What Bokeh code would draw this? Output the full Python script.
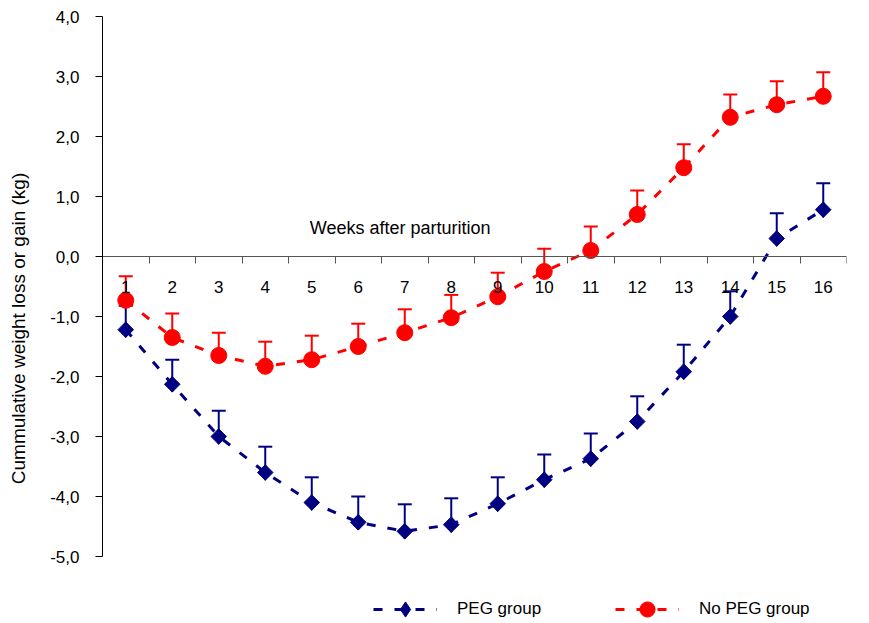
import numpy as np
from bokeh.plotting import figure
from bokeh.models import Range1d, FixedTicker, Legend, LegendItem, Label
from bokeh.embed import file_html
from bokeh.resources import INLINE

# ---- data ----
weeks = list(range(1, 17))
week_labels = [str(w) for w in weeks]

peg = [-1.22, -2.13, -3.00, -3.60, -4.10, -4.43, -4.58, -4.47,
       -4.12, -3.72, -3.37, -2.75, -1.92, -1.00, 0.30, 0.78]
peg_se = [0.40, 0.41, 0.43, 0.43, 0.42, 0.43, 0.45, 0.44,
          0.44, 0.42, 0.42, 0.42, 0.45, 0.42, 0.42, 0.44]

nopeg = [-0.73, -1.35, -1.65, -1.83, -1.72, -1.50, -1.27, -1.02,
         -0.67, -0.25, 0.10, 0.70, 1.48, 2.32, 2.53, 2.67]
nopeg_se = [0.40, 0.40, 0.38, 0.41, 0.40, 0.38, 0.39, 0.38,
            0.40, 0.38, 0.40, 0.40, 0.39, 0.38, 0.39, 0.40]

y_ticks = [-5, -4, -3, -2, -1, 0, 1, 2, 3, 4]
y_tick_labels = ["-5,0", "-4,0", "-3,0", "-2,0", "-1,0", "0,0", "1,0", "2,0", "3,0", "4,0"]

series_names = ["PEG group", "No PEG group"]
x_title = "Weeks after parturition"
y_title = "Cummulative weight loss or gain (kg)"

FONT = "Liberation Sans"
BLUE = "#000080"
RED = "#FF0000"

# frame extends below the y axis (which stops at -5) to leave room for the legend
p = figure(frame_width=744, frame_height=624,
           min_border_left=102, min_border_top=16, min_border_right=12, min_border_bottom=0,
           x_range=Range1d(0.5, 16.5), y_range=Range1d(-6.4, 4),
           output_backend="svg", toolbar_location=None)
p.outline_line_color = None
p.xgrid.visible = False
p.ygrid.visible = False
p.background_fill_color = "white"
p.border_fill_color = "white"

# x axis at y = 0
xa = p.xaxis[0]
xa.fixed_location = 0
xa.ticker = FixedTicker(ticks=weeks, minor_ticks=[w - 0.5 for w in weeks] + [weeks[-1] + 0.5])
xa.major_label_overrides = {w: l for w, l in zip(weeks, week_labels)}
xa.major_tick_out = 0
xa.major_tick_in = 0
xa.minor_tick_out = 7
xa.minor_tick_in = 0
xa.axis_line_color = "#555555"
xa.minor_tick_line_color = "#555555"
xa.major_label_standoff = 17
xa.major_label_text_font = FONT
xa.major_label_text_font_size = "17px"
xa.major_label_text_color = "black"

ya = p.yaxis[0]
ya.bounds = (-5, 4)
ya.ticker = FixedTicker(ticks=y_ticks, minor_ticks=[])
ya.major_label_overrides = {t: l for t, l in zip(y_ticks, y_tick_labels)}
ya.major_tick_out = 7
ya.major_tick_in = 0
ya.axis_line_color = "black"
ya.major_tick_line_color = "black"
ya.major_label_standoff = 16
ya.major_label_text_font = FONT
ya.major_label_text_font_size = "17px"
ya.major_label_text_color = "black"
ya.axis_label = y_title
ya.axis_label_text_font = FONT
ya.axis_label_text_font_size = "19px"
ya.axis_label_text_font_style = "normal"
ya.axis_label_text_color = "black"
ya.axis_label_standoff = 18

DASH = "9 12"

def draw(vals, se, color):
    vals = np.array(vals)
    top = vals + np.array(se)
    ln = p.line(weeks, vals, line_color=color, line_width=3, line_dash=DASH)
    p.segment(x0=weeks, y0=vals, x1=weeks, y1=top, line_color=color, line_width=2)
    p.scatter(x=weeks, y=top, marker="dash", size=14, line_color=color, line_width=2)
    return ln, vals

b_ln, b_vals = draw(peg, peg_se, BLUE)
# diamond (used by the legend) under a wider rotated square for the plotted points
b_mk = p.scatter(x=weeks, y=b_vals, marker="diamond", size=15.5, fill_color=BLUE, line_color=BLUE)
p.scatter(x=weeks, y=b_vals, marker="square", size=11, angle=np.pi / 4,
          fill_color=BLUE, line_color=BLUE)

r_ln, r_vals = draw(nopeg, nopeg_se, RED)
r_mk = p.scatter(x=weeks, y=r_vals, marker="circle", size=16, fill_color=RED, line_color=RED)

title = Label(x=6.9, y=0.47, text=x_title, text_align="center", text_baseline="middle",
              text_font=FONT, text_font_size="18px", text_color="black")
p.add_layout(title)

legend = Legend(items=[LegendItem(label=series_names[0], renderers=[b_ln, b_mk]),
                       LegendItem(label=series_names[1], renderers=[r_ln, r_mk])],
                orientation="horizontal", location=(271, 12),
                glyph_width=64, glyph_height=38, label_standoff=20, label_width=125,
                spacing=33, padding=0, margin=0, border_line_color=None,
                background_fill_alpha=0,
                label_text_font=FONT, label_text_font_size="17px", label_text_color="black")
p.add_layout(legend, "center")

open("out.html", "w").write(file_html(p, INLINE))
